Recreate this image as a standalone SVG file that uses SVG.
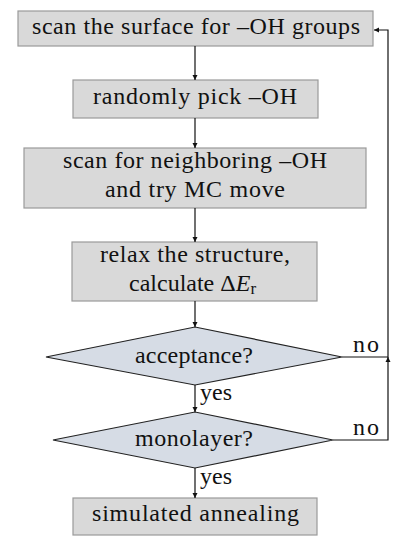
<svg xmlns="http://www.w3.org/2000/svg" width="402" height="550" viewBox="0 0 402 550">
<style>
.box{fill:#d9d9d9;stroke:#9a9a9a;stroke-width:1.2}
.dia{fill:#d6dce5;stroke:#222;stroke-width:1.2}
.t{font-family:"Liberation Serif","DejaVu Serif",serif;font-size:24px;fill:#111}
.c{stroke:#111;stroke-width:1.2;fill:none}
</style>
<defs>
<marker id="a" markerWidth="6" markerHeight="6" refX="5" refY="3" orient="auto" markerUnits="userSpaceOnUse">
<path d="M0,0.5 L5,3 L0,5.5 Z" fill="#111"/>
</marker>
</defs>
<rect width="402" height="550" fill="#fff"/>
<g id="n1"><rect class="box" x="18" y="11" width="355" height="35"/><text class="t" x="32" y="33.5" textLength="328" lengthAdjust="spacing">scan the surface for –OH groups</text></g>
<g id="n2"><rect class="box" x="73" y="80" width="245" height="38"/><text class="t" x="93" y="103.5" textLength="204" lengthAdjust="spacing">randomly pick –OH</text></g>
<g id="n3"><rect class="box" x="24" y="148" width="342" height="60"/><text class="t" x="63" y="168" textLength="264" lengthAdjust="spacing">scan for neighboring –OH</text><text class="t" x="105" y="197" textLength="180" lengthAdjust="spacing">and try MC move</text></g>
<g id="n4"><rect class="box" x="72" y="242" width="245" height="59"/><text class="t" x="100" y="261.7" textLength="190" lengthAdjust="spacing">relax the structure,</text><text class="t" x="129" y="290.7">calculate Δ<tspan font-style="italic">E</tspan><tspan font-size="17" dy="3">r</tspan></text></g>
<g id="n5"><polygon class="dia" points="46,357 195,327 342,357 195,385"/><text class="t" x="135" y="362.5" textLength="118" lengthAdjust="spacing">acceptance?</text></g>
<g id="n6"><polygon class="dia" points="53,440 195,412 333,440 195,468"/><text class="t" x="135" y="445.5" textLength="118" lengthAdjust="spacing">monolayer?</text></g>
<g id="n7"><rect class="box" x="73" y="498" width="244" height="37"/><text class="t" x="92" y="520.5" textLength="207" lengthAdjust="spacing">simulated annealing</text></g>
<g id="connectors">
<line class="c" x1="195" y1="46" x2="195" y2="80" marker-end="url(#a)"/>
<line class="c" x1="195" y1="118" x2="195" y2="148" marker-end="url(#a)"/>
<line class="c" x1="195" y1="208" x2="195" y2="242" marker-end="url(#a)"/>
<line class="c" x1="195" y1="301" x2="195" y2="327" marker-end="url(#a)"/>
<line class="c" x1="195" y1="385" x2="195" y2="412" marker-end="url(#a)"/>
<line class="c" x1="195" y1="468" x2="195" y2="498" marker-end="url(#a)"/>
<polyline class="c" points="342,357 388,357 388,30 374,30" marker-end="url(#a)"/>
<polyline class="c" points="333,440 388,440 388,357" marker-end="url(#a)"/>
<text class="t" x="353" y="352" textLength="26" lengthAdjust="spacing">no</text>
<text class="t" x="353" y="435" textLength="26" lengthAdjust="spacing">no</text>
<text class="t" x="200" y="399.5" textLength="32" lengthAdjust="spacing">yes</text>
<text class="t" x="200" y="484" textLength="32" lengthAdjust="spacing">yes</text>
</g>
</svg>
